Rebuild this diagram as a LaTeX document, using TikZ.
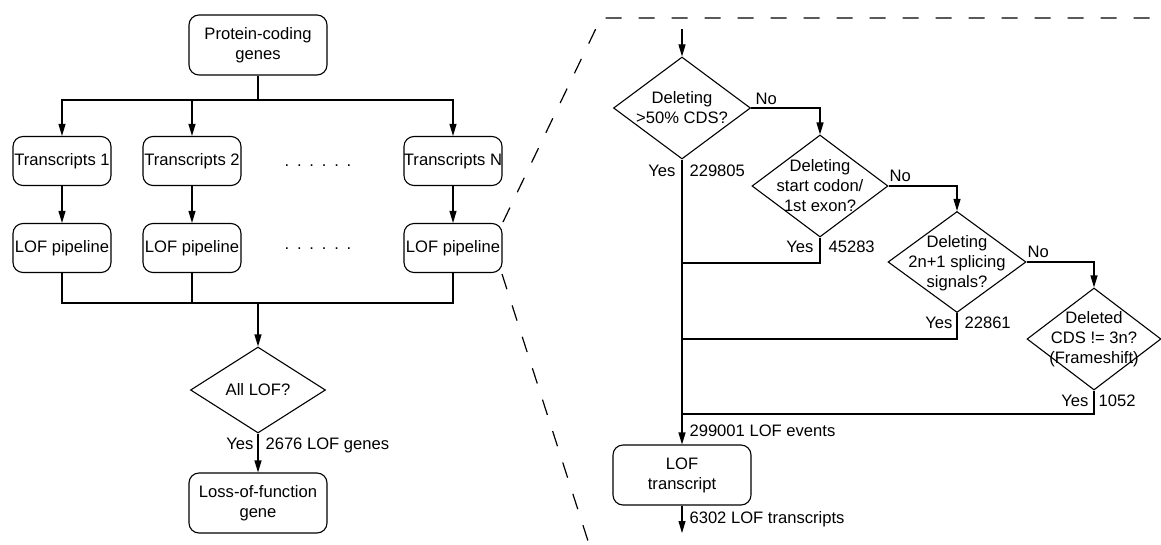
\documentclass[tikz,border=0pt]{standalone}
\usepackage{fontspec}
\setmainfont{Liberation Sans}
\usetikzlibrary{shapes.geometric,arrows.meta}
\newcommand{\sixdots}{.\hspace{7.8pt}.\hspace{7.8pt}.\hspace{7.8pt}.\hspace{7.8pt}.\hspace{7.8pt}.}

\begin{document}
\begin{tikzpicture}[x=1pt,y=-1pt,line width=1.1pt,
    box/.style={draw,rounded corners=10pt,align=center,inner sep=0pt,font=\fontsize{16.6}{20}\selectfont},
    decision/.style={draw,diamond,inner sep=0pt},
    dtext/.style={align=center,inner sep=0pt,font=\fontsize{16.6}{20}\selectfont},
    lab/.style={inner sep=0pt,font=\fontsize{16.6}{20}\selectfont},
    arr/.style={-{Triangle[length=12pt,width=7pt]}},
    zoomline/.style={line width=1.2pt,dash pattern=on 16pt off 17pt}]
    \useasboundingbox (0,0) rectangle (1161,544);
% Per gene: all transcripts
    \begin{scope}
        \node[box,minimum width=138pt,minimum height=60pt] (genes) at (258,45) {Protein-coding\\genes};
        \coordinate (split) at (258,100);
        \coordinate (merge) at (258,303);
        \draw (genes) -- (split);
        \foreach \i/\x/\t in {1/62/1, 2/192/2, n/453/N} {
            \node[box,minimum width=98pt,minimum height=49pt] (t\i) at (\x,161) {Transcripts \t};
            \node[box,minimum width=98pt,minimum height=49pt] (p\i) at (\x,248) {LOF pipeline};
            \draw[arr] (split) -| (t\i);
            \draw[arr] (t\i) -- (p\i);
            \draw (p\i) |- (merge);
        }
        \node[lab,anchor=base] (dotsa) at (318,166) {\sixdots};
        \node[lab,anchor=base] (dotsb) at (318,249) {\sixdots};
        \node[decision,minimum width=135pt,minimum height=86pt] (all) at (258,390) {};
        \node[lab] (alltxt) at (all) {All LOF?};
        \node[box,minimum width=138pt,minimum height=60pt] (gene) at (258,503) {Loss-of-function\\gene};
        \draw[arr] (merge) -- (all);
        \draw[arr] (all) -- (gene);
        \node[lab,anchor=base east] (yesg) at (254,449) {Yes};
        \node[lab,anchor=base west] (ng) at (265,449) {2676 LOF genes};
    \end{scope}
% Zoom lines
    \draw[zoomline] (503,222) -- (601,18) -- (1161,18);
    \draw[zoomline] (502,274) -- (589,544);
% Inside one LOF pipeline
    \begin{scope}
        \coordinate (in) at (682,29);
        \node[decision,minimum width=137pt,minimum height=102pt] (d1) at (682,108) {};
        \node[dtext] (d1txt) at (d1) {Deleting\\>50\% CDS?};
        \node[decision,minimum width=136pt,minimum height=102pt] (d2) at (820,186) {};
        \node[dtext] (d2txt) at (d2) {Deleting\\start codon/\\1st exon?};
        \node[decision,minimum width=138pt,minimum height=101pt] (d3) at (957,262) {};
        \node[dtext] (d3txt) at ([yshift=-1pt]d3) {Deleting\\2n+1 splicing\\signals?};
        \node[decision,minimum width=134pt,minimum height=102pt] (d4) at (1094,339) {};
        \node[dtext] (d4txt) at (d4) {Deleted\\CDS != 3n?\\(Frameshift)};
        \node[box,minimum width=138pt,minimum height=60pt] (lt) at (682,475) {LOF\\transcript};
        \coordinate (out) at (682,533);
        \draw[arr] (in) -- (d1);
        \foreach \a/\b in {d1/d2, d2/d3, d3/d4} {
            \draw[arr] (\a.east) -| (\b.north);
        }
        \foreach \d/\y in {d2/263, d3/339, d4/414} {
            \coordinate (j\d) at (682,\y);
            \draw (\d.south) |- (j\d);
        }
        \draw[arr] (d1.south) -- (lt.north);
        \draw[arr] (lt.south) -- (out);
        % labels
        \node[lab,anchor=base west] (no1) at (755,104) {No};
        \node[lab,anchor=base west] (no2) at (889,181) {No};
        \node[lab,anchor=base west] (no3) at (1027,257) {No};
        \node[lab,anchor=base east] (yes1) at (676,176) {Yes};
        \node[lab,anchor=base west] (n1) at (689,176) {229805};
        \node[lab,anchor=base east] (yes2) at (814,252) {Yes};
        \node[lab,anchor=base west] (n2) at (828,252) {45283};
        \node[lab,anchor=base east] (yes3) at (953,328) {Yes};
        \node[lab,anchor=base west] (n3) at (964,328) {22861};
        \node[lab,anchor=base east] (yes4) at (1089,406) {Yes};
        \node[lab,anchor=base west] (n4) at (1098,406) {1052};
        \node[lab,anchor=base west] (nev) at (689,436) {299001 LOF events};
        \node[lab,anchor=base west] (ntr) at (689,523) {6302 LOF transcripts};
    \end{scope}
\end{tikzpicture}
\end{document}
